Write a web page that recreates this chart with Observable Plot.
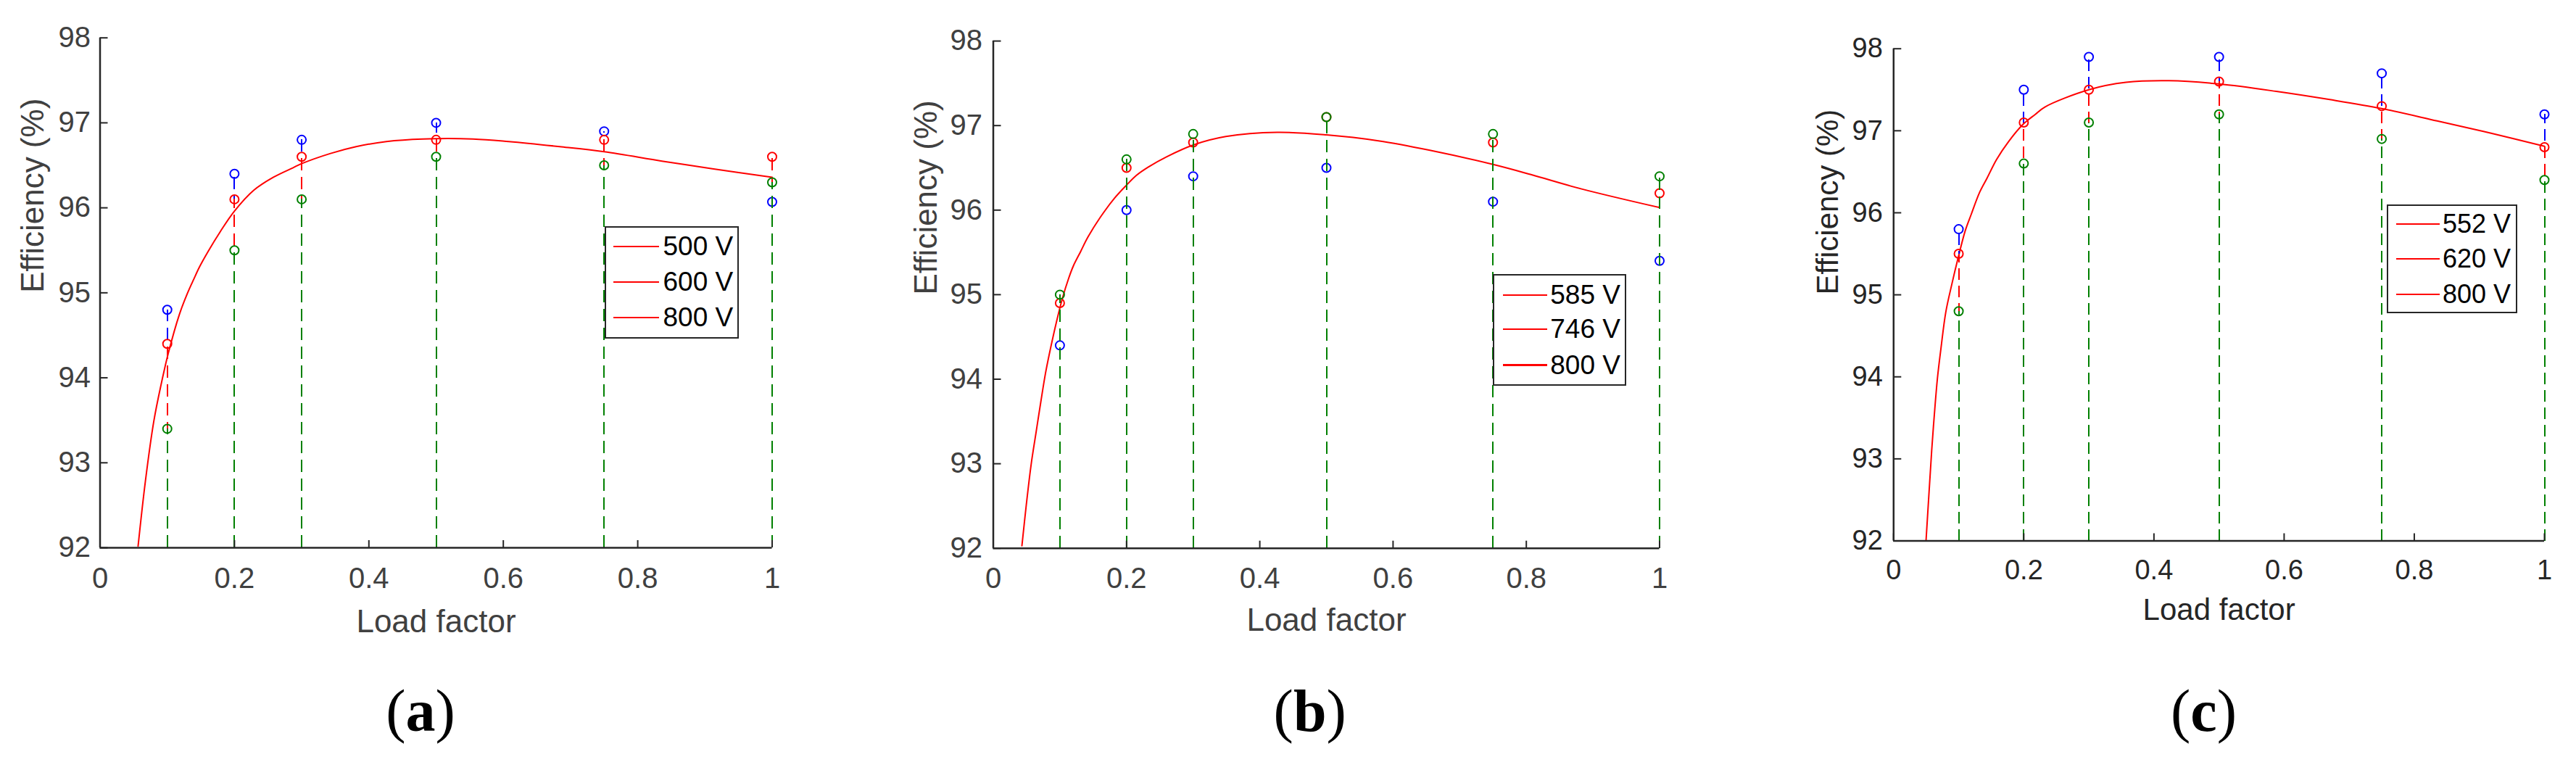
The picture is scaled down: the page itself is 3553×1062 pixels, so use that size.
<!DOCTYPE html>
<html>
<head>
<meta charset="utf-8">
<script src="https://cdn.jsdelivr.net/npm/d3@7"></script>
<script src="https://cdn.jsdelivr.net/npm/@observablehq/plot@0.6"></script>
<style>
html, body { margin: 0; padding: 0; background: #fff; }
#root { position: relative; width: 3553px; height: 1062px; overflow: hidden; background: #fff; }
.panel { position: absolute; top: 0; }
.legend { position: absolute; box-sizing: border-box; border: 2px solid #262626; background: #fff; }
.legend .sw { position: absolute; height: 0; }
.legend .lt { position: absolute; font-family: "Liberation Sans", Arial, sans-serif; color: #000; white-space: nowrap; line-height: 1; }
.cap { position: absolute; font-family: "Liberation Serif", "Times New Roman", serif; font-size: 82px; line-height: 1; color: #000; transform: translateX(-50%); white-space: nowrap; }
</style>
</head>
<body>
<div id="root"></div>
<script>
// ---------- data ----------
const xTicks = [0, 0.2, 0.4, 0.6, 0.8, 1];
const yTicks = [92, 93, 94, 95, 96, 97, 98];
const loadFactor = [0.1, 0.2, 0.3, 0.5, 0.75, 1];
const xLabel = "Load factor";
const yLabel = "Efficiency (%)";

// panel (a)
const aBlue  = [94.8, 96.4, 96.8, 97.0, 96.9, 96.07];
const aRed   = [94.4, 96.1, 96.6, 96.8, 96.8, 96.6];
const aGreen = [93.4, 95.5, 96.1, 96.6, 96.5, 96.3];
const aCurveX = [0.0566, 0.0674, 0.080, 0.0908, 0.1016, 0.1178, 0.1303, 0.1394, 0.1483, 0.161, 0.1789, 0.1998, 0.2292, 0.258, 0.2867, 0.30, 0.343, 0.381, 0.426, 0.48, 0.555, 0.608, 0.684, 0.75, 0.836, 0.911, 1.0];
const aCurveY = [92.02, 92.78, 93.49, 93.92, 94.29, 94.74, 95.00, 95.16, 95.31, 95.49, 95.72, 95.96, 96.21, 96.36, 96.47, 96.52, 96.64, 96.72, 96.78, 96.81, 96.81, 96.78, 96.72, 96.66, 96.55, 96.46, 96.36];
const aLegend = ["500 V", "600 V", "800 V"];

// panel (b)
const bBlue  = [94.4, 96.0, 96.4, 96.5, 96.1, 95.4];
const bRed   = [94.9, 96.5, 96.8, 97.1, 96.8, 96.2];
const bGreen = [95.0, 96.6, 96.9, 97.1, 96.9, 96.4];
const bCurveX = [0.043, 0.0495, 0.0568, 0.064, 0.0713, 0.0786, 0.0858, 0.0949, 0.1039, 0.113, 0.1202, 0.1311, 0.142, 0.1602, 0.1819, 0.1993, 0.2146, 0.2327, 0.26, 0.30, 0.349, 0.426, 0.50, 0.578, 0.654, 0.75, 0.807, 0.883, 1.0];
const bCurveY = [92.03, 92.51, 92.99, 93.36, 93.73, 94.08, 94.36, 94.68, 94.96, 95.19, 95.34, 95.51, 95.68, 95.91, 96.14, 96.29, 96.41, 96.51, 96.63, 96.77, 96.87, 96.92, 96.89, 96.82, 96.71, 96.54, 96.42, 96.25, 96.03];
const bLegend = ["585 V", "746 V", "800 V"];

// panel (c)
const cBlue  = [95.8, 97.5, 97.9, 97.9, 97.7, 97.2];
const cRed   = [95.5, 97.1, 97.5, 97.6, 97.3, 96.8];
const cGreen = [94.8, 96.6, 97.1, 97.2, 96.9, 96.4];
const cCurveX = [0.0498, 0.0545, 0.0585, 0.0626, 0.0673, 0.0728, 0.0802, 0.0895, 0.0988, 0.11, 0.1192, 0.1322, 0.1434, 0.1582, 0.1768, 0.1991, 0.2177, 0.2325, 0.30, 0.357, 0.423, 0.50, 0.588, 0.67, 0.75, 0.835, 0.918, 1.0];
const cCurveY = [92.0, 92.6, 93.1, 93.54, 93.98, 94.35, 94.79, 95.13, 95.44, 95.78, 95.98, 96.25, 96.42, 96.65, 96.87, 97.08, 97.20, 97.29, 97.50, 97.59, 97.61, 97.57, 97.48, 97.38, 97.27, 97.12, 96.97, 96.81];
const cLegend = ["552 V", "620 V", "800 V"];

const captions = ["a", "b", "c"];

// ---------- layout ----------
const panels = [
  { left: 0, width: 1180, x0: 137.5, x1: 1064.5, yTop: 51.7, yBot: 755,
    blue: aBlue, red: aRed, green: aGreen, cx: aCurveX, cy: aCurveY,
    tickColor: "#404040", tickFont: 40, labelFont: 44, yPad: 13, xPad: 27, xLabelDy: 85, yLabelDx: -92, dash: "17,9",
    legend: { labels: aLegend, left: 834, top: 311.7, w: 185, h: 155, rows: [28.3, 77, 126], swL: 12, swR: 75, txt: 80.5, font: 37, widths: [2, 2, 2] },
    capX: 580, cap: captions[0] },
  { left: 1180, width: 1210, x0: 1369.5, x1: 2288.5, yTop: 56.1, yBot: 755.7,
    blue: bBlue, red: bRed, green: bGreen, cx: bCurveX, cy: bCurveY,
    tickColor: "#404040", tickFont: 40, labelFont: 44, yPad: 15, xPad: 26, xLabelDy: 83, yLabelDx: -92, dash: "17,9",
    legend: { labels: bLegend, left: 2059.3, top: 377.6, w: 183.4, h: 154, rows: [29, 76.4, 126], swL: 13.3, swR: 75, txt: 79, font: 37, widths: [2, 2, 3.2] },
    capX: 1806.7, cap: captions[1] },
  { left: 2390, width: 1163, x0: 2611.3, x1: 3509, yTop: 66.7, yBot: 745.5,
    blue: cBlue, red: cRed, green: cGreen, cx: cCurveX, cy: cCurveY,
    tickColor: "#262626", tickFont: 38, labelFont: 42, yPad: 15, xPad: 26, xLabelDy: 79.5, yLabelDx: -90.6, dash: "16,8",
    legend: { labels: cLegend, left: 3292, top: 281.6, w: 180, h: 150, rows: [27.1, 75.4, 124], swL: 13, swR: 72.5, txt: 77, font: 36, widths: [2, 2, 2] },
    capX: 3039.5, cap: captions[2] }
];

const root = document.getElementById("root");
const axisColor = "#262626";

function makePanel(p) {
  const H = 900;
  const fw = p.x1 - p.x0, fh = p.yBot - p.yTop;
  const base = yTicks[0];
  const curve = p.cx.map((x, i) => ({ x, y: p.cy[i] }));
  const series = [[p.blue, "#0000ff"], [p.red, "#ff0000"], [p.green, "#008000"]];
  const marks = [];
  marks.push(Plot.line(curve, { x: "x", y: "y", stroke: "#ff0000", strokeWidth: 2, curve: "catmull-rom" }));
  for (const [vals, color] of series) {
    const d = loadFactor.map((x, i) => ({ x, base, v: vals[i] }));
    marks.push(Plot.ruleX(d, { x: "x", y1: "base", y2: "v", stroke: color, strokeWidth: 2, strokeDasharray: p.dash, shapeRendering: "crispEdges" }));
    marks.push(Plot.dot(d, { x: "x", y: "v", r: 6, stroke: color, strokeWidth: 2, fill: "none" }));
  }
  // inward ticks
  marks.push(Plot.ruleX(xTicks, { x: d => d, insetTop: fh - 10, stroke: axisColor, strokeWidth: 2 }));
  marks.push(Plot.ruleY(yTicks, { y: d => d, insetRight: fw - 11, stroke: axisColor, strokeWidth: 2 }));
  // spines
  marks.push(Plot.ruleX([0], { stroke: axisColor, strokeWidth: 2.5 }));
  marks.push(Plot.ruleY([base], { stroke: axisColor, strokeWidth: 2.5 }));
  // tick labels
  marks.push(Plot.axisX(xTicks, { tickSize: 0, tickPadding: p.xPad, fontSize: p.tickFont, color: p.tickColor, tickFormat: d => String(d), label: null }));
  marks.push(Plot.axisY(yTicks, { tickSize: 0, tickPadding: p.yPad, fontSize: p.tickFont, color: p.tickColor, tickFormat: d => String(d), label: null }));
  // axis titles
  marks.push(Plot.text([xLabel], { frameAnchor: "bottom", dy: p.xLabelDy, lineAnchor: "top", fontSize: p.labelFont, fill: p.tickColor, text: d => d }));
  marks.push(Plot.text([yLabel], { frameAnchor: "left", dx: p.yLabelDx, rotate: -90, fontSize: p.labelFont, fill: p.tickColor, text: d => d }));

  const svg = Plot.plot({
    width: p.width, height: H,
    marginLeft: p.x0 - p.left, marginRight: p.left + p.width - p.x1,
    marginTop: p.yTop, marginBottom: H - p.yBot,
    x: { domain: [0, 1] },
    y: { domain: [92, 98] },
    style: { fontFamily: '"Liberation Sans", Arial, Helvetica, sans-serif', background: "transparent", overflow: "visible" },
    marks
  });
  const wrap = document.createElement("div");
  wrap.className = "panel";
  wrap.style.left = p.left + "px";
  wrap.appendChild(svg);
  root.appendChild(wrap);

  // legend
  const L = p.legend;
  const box = document.createElement("div");
  box.className = "legend";
  box.style.left = L.left + "px";
  box.style.top = L.top + "px";
  box.style.width = L.w + "px";
  box.style.height = L.h + "px";
  L.labels.forEach((lab, i) => {
    const cy = L.rows[i] - 2; // relative to padding box
    const sw = document.createElement("div");
    sw.className = "sw";
    sw.style.left = (L.swL - 2) + "px";
    sw.style.width = (L.swR - L.swL) + "px";
    sw.style.top = (cy - L.widths[i] / 2) + "px";
    sw.style.borderTop = L.widths[i] + "px solid #ff0000";
    box.appendChild(sw);
    const t = document.createElement("div");
    t.className = "lt";
    t.style.left = (L.txt - 2) + "px";
    t.style.fontSize = L.font + "px";
    t.style.top = (cy - L.font / 2) + "px";
    t.textContent = lab;
    box.appendChild(t);
  });
  root.appendChild(box);

  // caption
  const cap = document.createElement("div");
  cap.className = "cap";
  cap.style.left = p.capX + "px";
  cap.style.top = "940px";
  cap.innerHTML = "(<b>" + p.cap + "</b>)";
  root.appendChild(cap);
}

panels.forEach(makePanel);
</script>
</body>
</html>
